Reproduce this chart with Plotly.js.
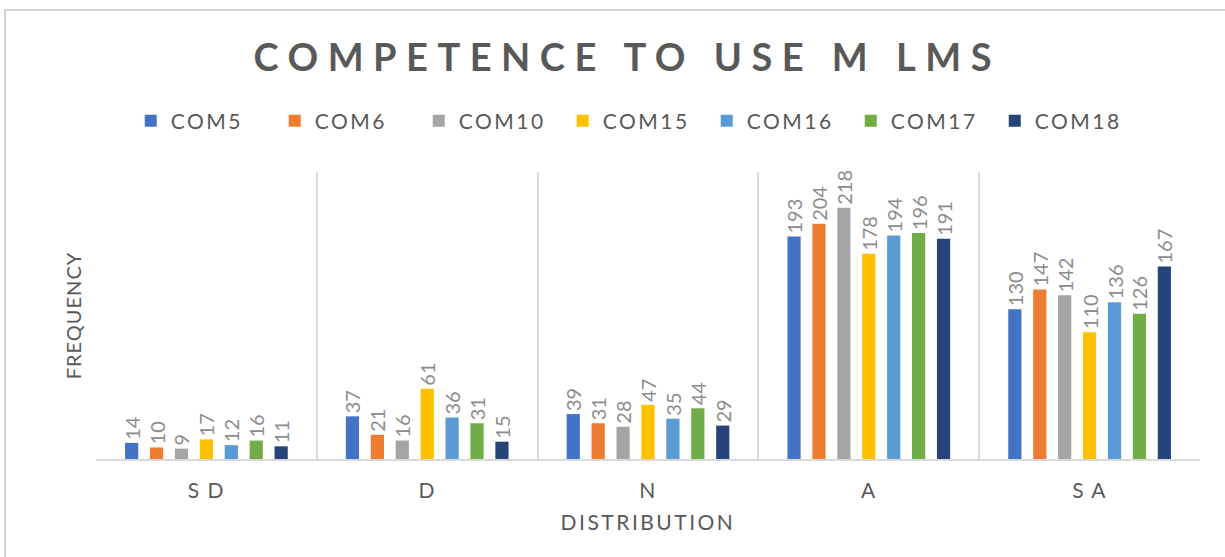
<!DOCTYPE html>
<html>
<head>
<meta charset="utf-8">
<script src="https://cdn.plot.ly/plotly-3.0.1.min.js"></script>
<style>
  html, body { margin: 0; padding: 0; background: #fff; }
  #wrap { position: relative; width: 1225px; height: 557px; }
  #chart { width: 1225px; height: 557px; }
  #frame { position: absolute; left: 4px; top: 9px; right: 0; bottom: 0;
           border-top: 2px solid #d4d4d4; border-left: 2px solid #d4d4d4; pointer-events: none; }
  .gtitle { letter-spacing: 9.5px; }
  .legendtext { letter-spacing: 2.5px; }
  .xtick text { letter-spacing: 1.5px; }
  .xtitle { letter-spacing: 2.5px; }
  .ytitle { letter-spacing: 1px; }
</style>
</head>
<body>
<div id="wrap">
  <div id="chart"></div>
  <div id="frame"></div>
</div>
<script>
const categories = ["S D", "D", "N", "A", "S A"];
const seriesNames = ["COM5", "COM6", "COM10", "COM15", "COM16", "COM17", "COM18"];
const COM5  = [14, 37, 39, 193, 130];
const COM6  = [10, 21, 31, 204, 147];
const COM10 = [9, 16, 28, 218, 142];
const COM15 = [17, 61, 47, 178, 110];
const COM16 = [12, 36, 35, 194, 136];
const COM17 = [16, 31, 44, 196, 126];
const COM18 = [11, 15, 29, 191, 167];
const seriesValues = [COM5, COM6, COM10, COM15, COM16, COM17, COM18];
const colors = ["#4472C4", "#ED7D31", "#A5A5A5", "#FFC000", "#5B9BD5", "#70AD47", "#264478"];

const FONT = "Lato, 'Open Sans', sans-serif";

const traces = seriesNames.map((name, i) => ({
  type: "bar",
  name: name,
  x: categories,
  y: seriesValues[i],
  marker: { color: colors[i] },
  text: seriesValues[i].map(String),
  textposition: "outside",
  textangle: -90,
  cliponaxis: false,
  constraintext: "none",
  textfont: { family: FONT, size: 20, color: "#8c8c8c" },
  hoverinfo: "x+y+name"
}));

const layout = {
  width: 1225,
  height: 557,
  paper_bgcolor: "#ffffff",
  plot_bgcolor: "#ffffff",
  margin: { l: 96, r: 25, t: 172, b: 98 },
  font: { family: FONT, color: "#595959" },
  title: {
    text: "<b>COMPETENCE TO USE M LMS</b>",
    font: { family: FONT, size: 38, color: "#595959" },
    x: 0.512, xanchor: "center",
    y: 1 - 58 / 557, yanchor: "middle"
  },
  showlegend: true,
  legend: {
    orientation: "h",
    x: 0.488, xanchor: "center",
    y: 1 + (172 - 121) / 287, yanchor: "middle",
    font: { family: FONT, size: 21, color: "#595959" },
    entrywidth: 99, entrywidthmode: "pixels",
    itemclick: false, itemdoubleclick: false
  },
  bargap: 0.21,
  bargroupgap: 0.47,
  barmode: "group",
  xaxis: {
    type: "category",
    range: [-0.5, 4.5],
    tickson: "boundaries",
    showgrid: true,
    gridcolor: "#d9d9d9",
    gridwidth: 2,
    showline: true,
    linecolor: "#d9d9d9",
    linewidth: 2,
    ticks: "",
    ticklabelstandoff: 12,
    tickfont: { family: FONT, size: 21, color: "#595959" },
    title: { text: "DISTRIBUTION", font: { family: FONT, size: 21, color: "#595959" }, standoff: 14 },
    zeroline: false,
    fixedrange: true
  },
  yaxis: {
    range: [0, 249],
    showgrid: false,
    zeroline: false,
    showticklabels: false,
    ticks: "",
    showline: false,
    title: { text: "FREQUENCY", font: { family: FONT, size: 20, color: "#595959" }, standoff: 8 },
    fixedrange: true
  }
};

Plotly.newPlot("chart", traces, layout, { displayModeBar: false });
</script>
</body>
</html>
